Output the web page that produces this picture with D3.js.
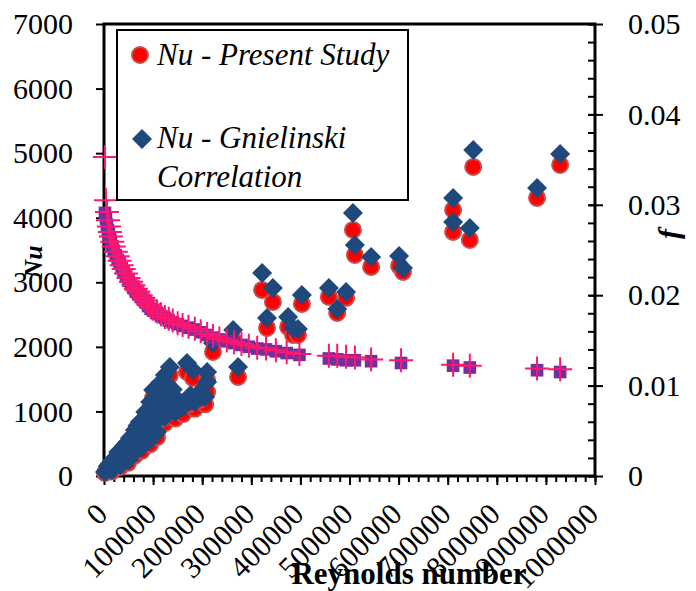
<!DOCTYPE html>
<html>
<head>
<meta charset="utf-8">
<script src="https://cdn.jsdelivr.net/npm/d3@7"></script>
<style>
    body { margin: 0; background: #fff; }
    text { font-family: "Liberation Serif", "DejaVu Serif", serif !important; fill: #000; }
    .axis path { display: none; }
    .axis line { stroke: #000; stroke-width: 2; }
    .axis text { font-size: 30px; }
</style>
</head>
<body>
<svg id="chart" width="696" height="591"></svg>
<script>
// Nu data: Reynolds number, present study, Gnielinski correlation
var reynolds = [
    2000, 8000, 18000, 29000, 41000, 53000, 63000, 73000, 84000, 94000, 104000, 114000, 124000, 134000,
    16000, 33000, 49000, 63000, 77000, 94000, 108000, 124000, 145000, 161000, 185000, 206000,
    43000, 57000, 73000, 90000, 104000, 118000, 134000,
    12000, 24000, 36000, 47000, 60000, 68000, 80000, 88000, 98000, 110000, 120000, 128000, 140000, 150000, 176000, 196000,
    100000, 169000, 181000, 210000, 210000, 222000, 263000, 273000, 322000, 344000, 332000, 375000,
    385000, 403000, 395000, 458000, 493000, 475000, 507000, 511000, 544000, 601000, 609000,
    711000, 711000, 745000, 752000, 882000, 929000
];
var nuPresent = [
    50, 120, 200, 310, 395, 510, 630, 745, 890, 1040, 1190, 1320, 1440, 1560,
    70, 140, 205, 320, 390, 490, 600, 820, 890, 960, 1040, 1110,
    275, 375, 490, 630, 745, 890, 990,
    150, 240, 340, 450, 560, 690, 760, 880, 960, 1090, 1180, 1290, 1200, 1060, 1120, 1180,
    1208, 1611, 1518, 1487, 1301, 1921, 2107, 1534, 2881, 2695, 2293, 2308,
    2184, 2664, 2184, 2773, 2760, 2525, 3810, 3423, 3237, 3253, 3160,
    4120, 3780, 3656, 4786, 4306, 4817
];
var nuGnielinski = [
    62, 155, 248, 372, 465, 589, 713, 836, 991, 1146, 1301, 1440, 1565, 1688,
    93, 170, 248, 372, 449, 558, 682, 914, 991, 1069, 1146, 1224,
    325, 434, 558, 713, 836, 991, 1100,
    190, 290, 400, 520, 640, 780, 860, 980, 1080, 1210, 1310, 1420, 1340, 1180, 1250, 1310,
    1332, 1750, 1642, 1611, 1456, 2060, 2262, 1688, 3145, 2912, 2448, 2463,
    2293, 2804, 2277, 2912, 2850, 2587, 4074, 3578, 3392, 3408, 3222,
    4306, 3934, 3842, 5050, 4461, 4988
];

// friction factor data
var fReynolds = [
    2000, 4000, 6000, 8000, 10000, 12000, 14000, 17000, 20000, 24000, 28000, 32000, 36000, 40000,
    45000, 50000, 55000, 60000, 65000, 70000, 75000, 80000, 85000, 90000, 95000, 100000, 108000,
    116000, 124000, 132000, 140000, 150000, 160000, 172000, 185000, 197000, 210000, 222000, 235000,
    250000, 265000, 280000, 295000, 312000, 330000, 350000, 372000, 398000, 458000, 475000, 493000,
    511000, 544000, 605000, 711000, 745000, 882000, 929000
];
var fPresent = [
    0.0291, 0.0285, 0.0278, 0.0272, 0.0268, 0.0264, 0.0260, 0.0254, 0.0249, 0.0244, 0.0239, 0.0235, 0.0230, 0.0226,
    0.0221, 0.0216, 0.0212, 0.0208, 0.0204, 0.0201, 0.0198, 0.0195, 0.0192, 0.0188, 0.0185, 0.0183, 0.0180,
    0.0177, 0.0175, 0.0172, 0.0170, 0.0168, 0.0166, 0.0164, 0.0162, 0.0159, 0.0156, 0.0153, 0.0151,
    0.0149, 0.0147, 0.0145, 0.0143, 0.0141, 0.0140, 0.0138, 0.0136, 0.0134, 0.0130, 0.0129, 0.0128,
    0.0128, 0.0127, 0.0125, 0.0122, 0.0120, 0.0117, 0.0115
];
var fCorrelation = [
    0.0353, 0.0305, 0.0292, 0.0283, 0.0276, 0.0270, 0.0265, 0.0259, 0.0254, 0.0248, 0.0243, 0.0238, 0.0233, 0.0229,
    0.0224, 0.0219, 0.0215, 0.0211, 0.0207, 0.0204, 0.0200, 0.0197, 0.0194, 0.0190, 0.0187, 0.0185, 0.0182,
    0.0179, 0.0176, 0.0174, 0.0172, 0.0169, 0.0167, 0.0165, 0.0163, 0.0160, 0.0157, 0.0155, 0.0152,
    0.0150, 0.0148, 0.0146, 0.0144, 0.0142, 0.0141, 0.0139, 0.0137, 0.0135, 0.0133, 0.0133, 0.0132,
    0.0131, 0.0129, 0.0128, 0.0123, 0.0122, 0.0119, 0.0118
];

var reTicks = [0, 100000, 200000, 300000, 400000, 500000, 600000, 700000, 800000, 900000, 1000000];
var nuTicks = [0, 1000, 2000, 3000, 4000, 5000, 6000, 7000];
var fTicks  = [0, 0.01, 0.02, 0.03, 0.04, 0.05];

var plot = { left: 104, right: 595, top: 24, bottom: 476 };

var svg = d3.select('#chart');

var x   = d3.scaleLinear().domain([0, 1000000]).range([plot.left, plot.right]);
var yNu = d3.scaleLinear().domain([0, 7000]).range([plot.bottom, plot.top]);
var yF  = d3.scaleLinear().domain([0, 0.05]).range([plot.bottom, plot.top]);

// left axis
svg.append('g')
    .attr('class', 'axis')
    .attr('transform', `translate(${ plot.left }, 0)`)
    .call(d3.axisLeft(yNu).tickValues(nuTicks).tickSize(8).tickPadding(23).tickFormat(d3.format('d')))
;

// bottom axis, minor then major ticks
svg.append('g')
    .attr('class', 'axis')
    .attr('transform', `translate(0, ${ plot.bottom })`)
    .call(d3.axisBottom(x).tickValues(d3.range(0, 1000001, 20000)).tickSize(6).tickFormat(''))
;
svg.append('g')
    .attr('class', 'axis')
    .attr('transform', `translate(0, ${ plot.bottom })`)
    .call(d3.axisBottom(x).tickValues(reTicks).tickSize(9).tickFormat(''))
;
svg.append('g')
    .selectAll('text')
    .data(reTicks)
    .enter().append('text')
        .attr('transform', d => `translate(${ x(d) + 5 }, ${ plot.bottom + 40 }) rotate(-45)`)
        .attr('text-anchor', 'end')
        .style('font-size', '30px')
        .text(d => d)
;

// right axis: minor ticks inside, major ticks crossing
svg.append('g')
    .attr('class', 'axis')
    .attr('transform', `translate(${ plot.right }, 0)`)
    .call(d3.axisLeft(yF).tickValues(d3.range(0, 0.0501, 0.002)).tickSize(7).tickFormat(''))
;
svg.append('g')
    .attr('class', 'axis')
    .attr('transform', `translate(${ plot.right }, 0)`)
    .call(d3.axisRight(yF).tickValues(fTicks).tickSize(8).tickPadding(25).tickFormat(d => d === 0 ? '0' : d3.format('.2f')(d)))
    .call(g => g.selectAll('.tick line').attr('x1', -6))
;

// plot frame
svg.append('rect')
    .attr('x', plot.left)
    .attr('y', plot.top)
    .attr('width', plot.right - plot.left)
    .attr('height', plot.bottom - plot.top)
    .attr('fill', 'none')
    .attr('stroke', '#000')
    .attr('stroke-width', 3)
;

// Nu present study
svg.append('g')
    .selectAll('circle')
    .data(reynolds)
    .enter().append('circle')
        .attr('cx', d => x(d))
        .attr('cy', (d, i) => yNu(nuPresent[i]))
        .attr('r', 8)
        .attr('fill', '#ff0000')
        .attr('stroke', '#c0504d')
        .attr('stroke-width', 2)
;

// Nu Gnielinski
var diamond = d3.symbol(d3.symbolSquare, 200);
svg.append('g')
    .selectAll('path')
    .data(reynolds)
    .enter().append('path')
        .attr('d', diamond)
        .attr('transform', (d, i) => `translate(${ x(d) }, ${ yNu(nuGnielinski[i]) }) rotate(45)`)
        .attr('fill', '#1f497d')
;

// f present study
svg.append('g')
    .selectAll('path')
    .data(fReynolds)
    .enter().append('path')
        .attr('d', d3.symbol(d3.symbolSquare, 160))
        .attr('transform', (d, i) => `translate(${ x(d) }, ${ yF(fPresent[i]) })`)
        .attr('fill', '#7030a0')
;

// f correlation
svg.append('g')
    .selectAll('path')
    .data(fReynolds)
    .enter().append('path')
        .attr('d', 'M-12,0H12M0,-12V12')
        .attr('transform', (d, i) => `translate(${ x(d) }, ${ yF(fCorrelation[i]) })`)
        .attr('stroke', '#ff1670')
        .attr('stroke-width', 2)
        .attr('fill', 'none')
;

// axis titles
svg.append('text')
    .attr('transform', 'translate(42, 262) rotate(-90)')
    .attr('text-anchor', 'middle')
    .style('font-size', '26px')
    .style('font-weight', 'bold')
    .style('font-style', 'italic')
    .text('Nu')
;
svg.append('text')
    .attr('transform', 'translate(679, 234) rotate(-90)')
    .attr('text-anchor', 'middle')
    .style('font-size', '30px')
    .style('font-weight', 'bold')
    .style('font-style', 'italic')
    .text('f')
;
svg.append('text')
    .attr('x', 409)
    .attr('y', 584)
    .attr('text-anchor', 'middle')
    .style('font-size', '31px')
    .style('font-weight', 'bold')
    .text('Reynolds number')
;

// legend
var legend = svg.append('g');

legend.append('rect')
    .attr('x', 117)
    .attr('y', 30)
    .attr('width', 291)
    .attr('height', 170)
    .attr('fill', '#fff')
    .attr('stroke', '#000')
    .attr('stroke-width', 2)
;
legend.append('circle')
    .attr('cx', 140)
    .attr('cy', 55)
    .attr('r', 8)
    .attr('fill', '#ff0000')
    .attr('stroke', '#c0504d')
    .attr('stroke-width', 2)
;
legend.append('path')
    .attr('d', diamond)
    .attr('transform', 'translate(142, 139) rotate(45)')
    .attr('fill', '#1f497d')
;
legend.selectAll('text')
    .data([['Nu - Present Study', 65], ['Nu - Gnielinski', 148], ['Correlation', 187]])
    .enter().append('text')
        .attr('x', 157)
        .attr('y', d => d[1])
        .style('font-size', '31px')
        .style('font-style', 'italic')
        .text(d => d[0])
;
</script>
</body>
</html>
